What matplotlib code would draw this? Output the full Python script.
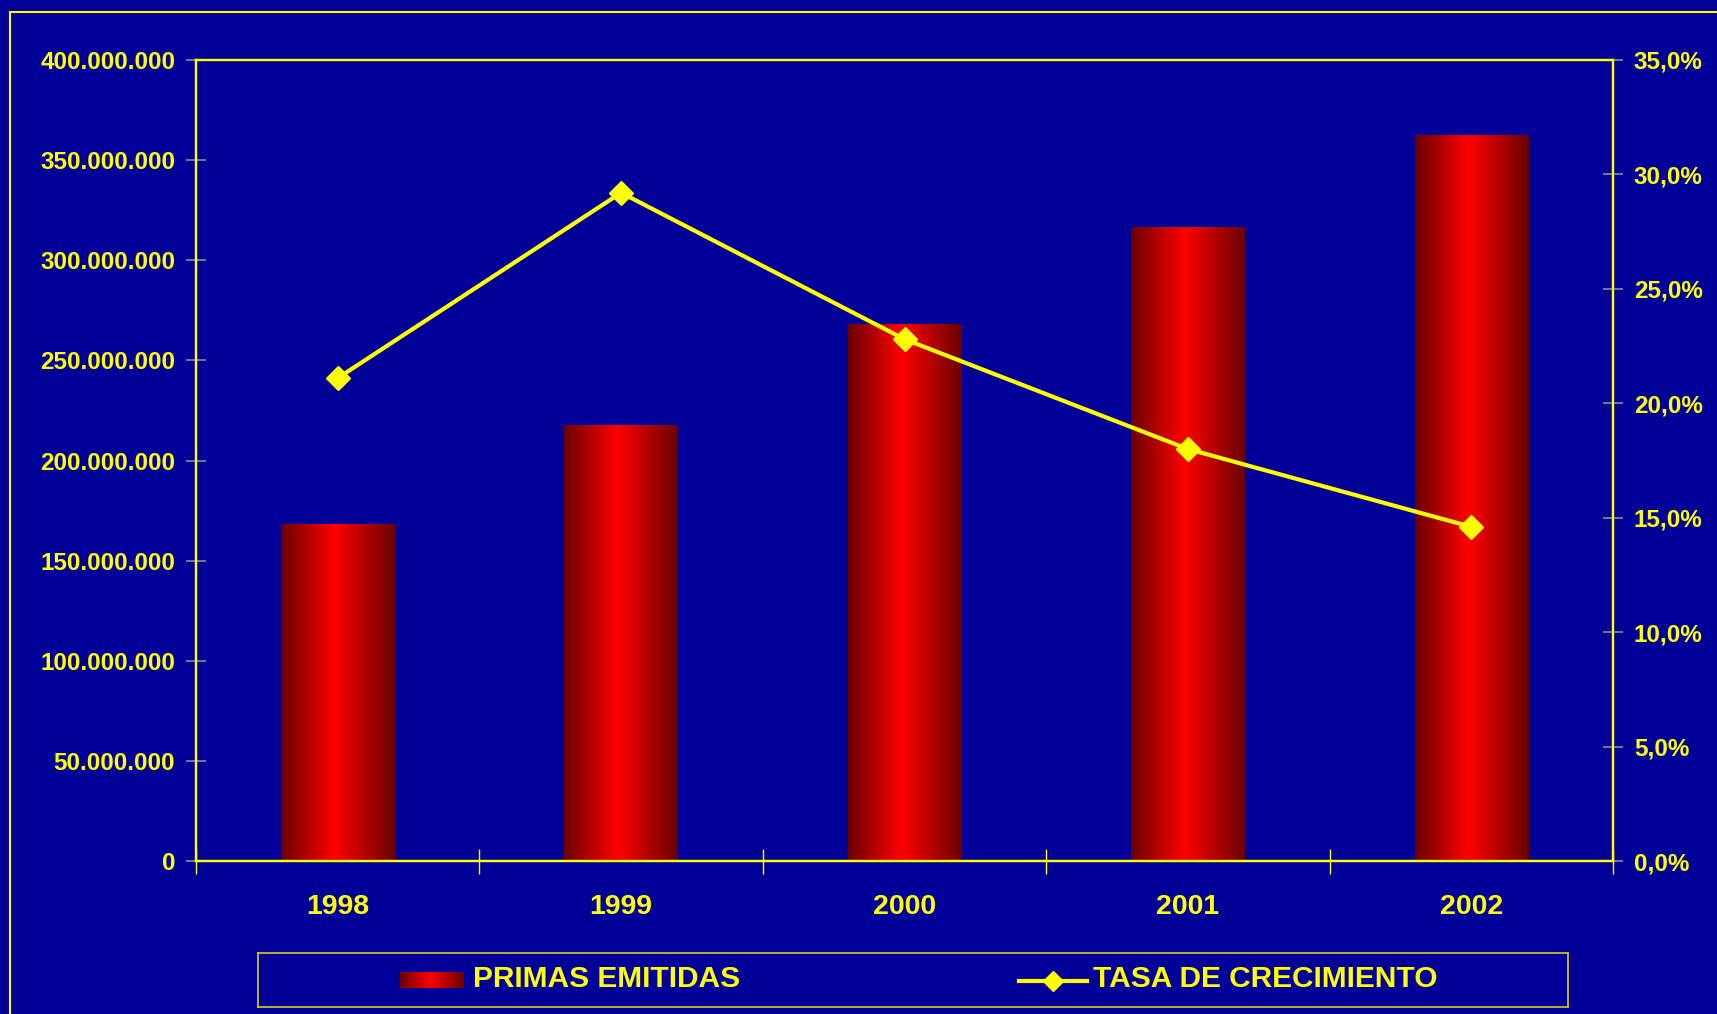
import numpy as np
import matplotlib
matplotlib.use("Agg")
import matplotlib.pyplot as plt
from matplotlib.colors import LinearSegmentedColormap
from matplotlib.patches import Rectangle
from matplotlib.ticker import FixedLocator, FuncFormatter

# data
years = ["1998", "1999", "2000", "2001", "2002"]
primas = [167800000, 217500000, 267800000, 316400000, 362300000]
tasa = [0.211, 0.292, 0.228, 0.180, 0.146]

BG = "#000099"
YEL = "#ffff00"
FONT = "Liberation Sans"

bar_cmap = LinearSegmentedColormap.from_list(
    "barra", [(0.0, "#6a0000"), (0.47, "#ff0000"), (1.0, "#6a0000")])
grad = np.linspace(0, 1, 256).reshape(1, -1)

W, H = 1717, 1014
fig = plt.figure(figsize=(W / 100, H / 100), dpi=100, facecolor=BG)

# outer chart-area frame
fig.add_artist(Rectangle((10 / W, -0.1), 2, 1 - 12 / H + 0.1, transform=fig.transFigure,
                         fill=False, ec=YEL, lw=1.5))

ax = fig.add_axes([196 / W, 1 - 861 / H, (1613 - 196) / W, (861 - 60) / H])
ax.set_facecolor(BG)

x = np.arange(len(years))
bars = ax.bar(x, primas, width=0.4, color="none", zorder=2)
for b in bars:
    ax.imshow(grad, cmap=bar_cmap, aspect="auto", zorder=2,
              extent=[b.get_x(), b.get_x() + b.get_width(), 0, b.get_height()])

ax.set_xlim(-0.5, len(years) - 0.5)
ax.set_ylim(0, 400000000)
ax.yaxis.set_major_locator(FixedLocator(np.arange(0, 400000001, 50000000)))
ax.yaxis.set_major_formatter(FuncFormatter(lambda v, p: f"{int(v):,}".replace(",", ".")))
ax.set_xticks(x)
ax.set_xticklabels(years)
ax.set_xticks(np.arange(-0.5, len(years), 1.0), minor=True)
ax.tick_params(axis="x", which="major", length=0, pad=24, labelsize=20.5, labelcolor=YEL)
ax.tick_params(axis="x", which="minor", direction="inout", length=18, width=1, color=YEL)
ax.tick_params(axis="y", direction="inout", length=14, width=1.2, color="#8c8c8c",
               pad=8, labelsize=17.5, labelcolor=YEL)
for lab in ax.get_xticklabels() + ax.get_yticklabels():
    lab.set_fontfamily(FONT)
    lab.set_fontweight("bold")
for s in ax.spines.values():
    s.set_color(YEL)
    s.set_linewidth(1.6)

ax2 = ax.twinx()
ax2.plot(x, tasa, color=YEL, lw=3, marker="D", ms=12.5, mfc=YEL, mec=YEL, zorder=5)
ax2.set_ylim(0, 0.35)
ax2.yaxis.set_major_locator(FixedLocator(np.arange(0, 0.3501, 0.05)))
ax2.yaxis.set_major_formatter(FuncFormatter(lambda v, p: f"{v * 100:.1f}%".replace(".", ",")))
ax2.tick_params(axis="y", direction="inout", length=14, width=1.2, color="#8c8c8c",
                pad=8, labelsize=17.5, labelcolor=YEL)
for lab in ax2.get_yticklabels():
    lab.set_fontfamily(FONT)
    lab.set_fontweight("bold")
for s in ax2.spines.values():
    s.set_color(YEL)
    s.set_linewidth(1.6)

# legend box drawn by hand so the bar swatch keeps its gradient
lax = fig.add_axes([258 / W, 1 - 1007 / H, (1568 - 258) / W, (1007 - 953) / H])
lax.set_facecolor(BG)
for s in lax.spines.values():
    s.set_color("#d8cc20")
    s.set_linewidth(1.2)
lax.set_xticks([])
lax.set_yticks([])
lax.imshow(grad, cmap=bar_cmap, aspect="auto", extent=[400, 463, 988, 972])
lax.plot([1019, 1087], [981, 981], color=YEL, lw=3)
lax.plot([1053], [981], marker="D", ms=10, color=YEL)
lax.set_xlim(258, 1568)
lax.set_ylim(1007, 953)
lax.text(473, 979, "PRIMAS EMITIDAS", color=YEL, fontsize=21.5, fontweight="bold",
         fontfamily=FONT, va="center", ha="left")
lax.text(1093, 979, "TASA DE CRECIMIENTO", color=YEL, fontsize=21.5, fontweight="bold",
         fontfamily=FONT, va="center", ha="left")

fig.savefig("out.png", dpi=100, facecolor=BG)
